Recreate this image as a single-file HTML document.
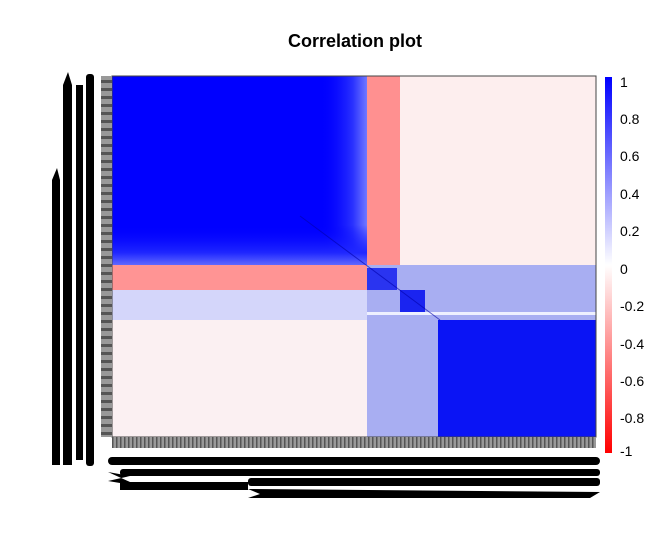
<!DOCTYPE html>
<html><head><style>body{margin:0;background:#fff}svg{display:block}text{font-family:"Liberation Sans",sans-serif}</style></head>
<body>
<svg width="672" height="550" viewBox="0 0 672 550" xmlns="http://www.w3.org/2000/svg">
<defs>
<linearGradient id="cb" x1="0" y1="0" x2="0" y2="1">
<stop offset="0" stop-color="#0000ff"/><stop offset="0.5" stop-color="#ffffff"/><stop offset="1" stop-color="#ff0000"/></linearGradient>
<linearGradient id="fadeR" x1="0" y1="0" x2="1" y2="0">
<stop offset="0" stop-color="#0000ff" stop-opacity="0"/><stop offset="0.7" stop-color="#2a32ff"/><stop offset="1" stop-color="#7078ff"/></linearGradient>
<linearGradient id="fadeB" x1="0" y1="0" x2="0" y2="1">
<stop offset="0" stop-color="#0000ff" stop-opacity="0"/><stop offset="0.7" stop-color="#2028ff"/><stop offset="1" stop-color="#6068ff"/></linearGradient>
<pattern id="tk" width="4" height="11" patternUnits="userSpaceOnUse"><rect width="4" height="11" fill="#999"/><rect width="1.5" height="11" fill="#555"/></pattern>
<pattern id="tkv" width="11" height="8" patternUnits="userSpaceOnUse"><rect width="11" height="8" fill="#999"/><rect width="11" height="3" fill="#555"/></pattern>
</defs>
<text x="355" y="47" font-size="18" font-weight="bold" text-anchor="middle">Correlation plot</text>
<rect x="112" y="76" width="484" height="361" fill="#fff"/>
<rect x="112" y="76" width="255" height="189" fill="#0000ff"/>
<rect x="320" y="76" width="47" height="189" fill="url(#fadeR)"/>
<rect x="112" y="225" width="255" height="40" fill="url(#fadeB)"/>
<rect x="367" y="76" width="33" height="189" fill="#ff9090"/>
<rect x="400" y="76" width="196" height="189" fill="#fdeeee"/>
<rect x="112" y="265" width="255" height="25" fill="#ff9494"/>
<rect x="112" y="290" width="255" height="30" fill="#d4d6fa"/>
<rect x="112" y="320" width="255" height="117" fill="#fbf0f2"/>
<rect x="367" y="265" width="229" height="172" fill="#a8aef2"/>
<rect x="438" y="320" width="158" height="117" fill="#0a14f5"/>
<rect x="367" y="268" width="30" height="22" fill="#2a34f0"/>
<rect x="400" y="290" width="25" height="22" fill="#1a24f0"/>
<rect x="367" y="312" width="229" height="3" fill="#eef0ff"/>
<line x1="300" y1="216" x2="440" y2="320" stroke="#0000aa" stroke-width="1" opacity="0.6"/>
<rect x="112" y="76" width="484" height="361" fill="none" stroke="#444"/>
<rect x="101" y="76" width="11" height="361" fill="url(#tkv)"/>
<rect x="112" y="437" width="484" height="11" fill="url(#tk)"/>
<rect x="86" y="74" width="8" height="392" rx="3" fill="#000"/>
<rect x="76" y="85" width="7" height="375" fill="#000"/>
<rect x="63" y="85" width="9" height="380" fill="#000"/>
<rect x="52" y="180" width="8" height="285" fill="#000"/>
<polygon points="63,85 68,72 72,85" fill="#000"/><polygon points="52,180 57,168 60,180" fill="#000"/>
<rect x="108" y="457" width="492" height="8" rx="4" fill="#000"/>
<rect x="120" y="469" width="480" height="7" rx="3" fill="#000"/>
<rect x="248" y="478" width="352" height="8" rx="3" fill="#000"/>
<polygon points="108,472 130,476 108,481 120,483 120,490 248,490 248,482 130,482" fill="#000"/>
<polygon points="248,489 600,492 590,498 248,498 260,494" fill="#000"/>
<rect x="605" y="77" width="7" height="376" fill="url(#cb)"/>
<g font-size="14" fill="#000">
<text x="620" y="87">1</text><text x="620" y="124">0.8</text><text x="620" y="161">0.6</text>
<text x="620" y="199">0.4</text><text x="620" y="236">0.2</text><text x="620" y="274">0</text>
<text x="620" y="311">-0.2</text><text x="620" y="349">-0.4</text><text x="620" y="386">-0.6</text>
<text x="620" y="423">-0.8</text><text x="620" y="456">-1</text></g>
</svg>
</body></html>
